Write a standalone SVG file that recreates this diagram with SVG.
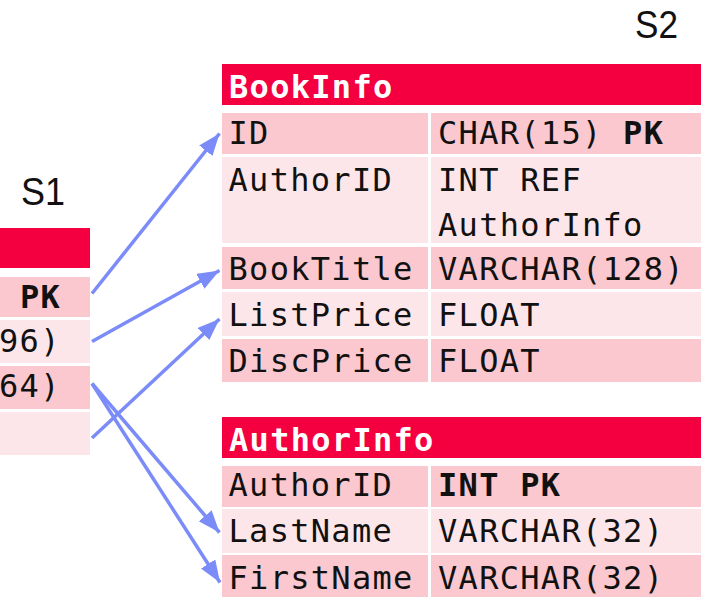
<svg xmlns="http://www.w3.org/2000/svg" width="701" height="597" viewBox="0 0 701 597">
<defs>
<style>
.hd{fill:#F40040}
.dk{fill:#FAC8CE}
.lt{fill:#FDE6E9}
.t{font-family:"DejaVu Sans Mono","Liberation Mono",monospace;font-size:32px;letter-spacing:1.3px;fill:#111}
.th{font-family:"DejaVu Sans Mono","Liberation Mono",monospace;font-size:32px;letter-spacing:1.3px;fill:#fff;font-weight:bold}
.b{font-weight:bold}
.lbl{font-family:"Liberation Sans",Arial,sans-serif;font-size:38px;fill:#111}
.c{stroke:#7B8CF8;stroke-width:3.5;fill:none;marker-end:url(#ah)}
</style>
<marker id="ah" markerUnits="userSpaceOnUse" markerWidth="24" markerHeight="18" refX="22" refY="8.5" orient="auto">
<path d="M0,0 L22,8.5 L0,17 z" fill="#7B8CF8"/>
</marker>
</defs>
<rect width="701" height="597" fill="#fff"/>

<g id="label-s1"><text class="lbl" x="21" y="205" textLength="44" lengthAdjust="spacingAndGlyphs">S1</text></g>
<g id="label-s2"><text class="lbl" x="635" y="38" textLength="43" lengthAdjust="spacingAndGlyphs">S2</text></g>

<g id="table-s1">
<rect class="hd" x="0" y="228" width="90" height="40"/>
<rect class="dk" x="0" y="277" width="90" height="40"/>
<rect class="lt" x="0" y="320" width="90" height="43"/>
<rect class="dk" x="0" y="366" width="90" height="43"/>
<rect class="lt" x="0" y="412" width="90" height="43"/>
<text class="t b" x="20" y="307.5">PK</text>
<text class="t" x="-1" y="351.5">96)</text>
<text class="t" x="-1" y="397">64)</text>
</g>

<g id="table-bookinfo">
<rect class="hd" x="222" y="64" width="479" height="41"/>
<rect class="dk" x="222" y="113" width="206" height="41"/>
<rect class="dk" x="431" y="113" width="270" height="41"/>
<rect class="lt" x="222" y="157" width="206" height="86"/>
<rect class="lt" x="431" y="157" width="270" height="86"/>
<rect class="dk" x="222" y="247" width="206" height="42"/>
<rect class="dk" x="431" y="247" width="270" height="42"/>
<rect class="lt" x="222" y="292" width="206" height="44"/>
<rect class="lt" x="431" y="292" width="270" height="44"/>
<rect class="dk" x="222" y="339" width="206" height="43"/>
<rect class="dk" x="431" y="339" width="270" height="43"/>
<text class="th" x="229" y="98">BookInfo</text>
<text class="t" x="228.5" y="144">ID</text>
<text class="t" x="438" y="144">CHAR(15) <tspan class="b">PK</tspan></text>
<text class="t" x="228.5" y="191">AuthorID</text>
<text class="t" x="438" y="191">INT REF</text>
<text class="t" x="438" y="235.5">AuthorInfo</text>
<text class="t" x="228.5" y="280">BookTitle</text>
<text class="t" x="438" y="280">VARCHAR(128)</text>
<text class="t" x="228.5" y="326">ListPrice</text>
<text class="t" x="438" y="326">FLOAT</text>
<text class="t" x="228.5" y="371.5">DiscPrice</text>
<text class="t" x="438" y="371.5">FLOAT</text>
</g>

<g id="table-authorinfo">
<rect class="hd" x="222" y="417" width="479" height="41"/>
<rect class="dk" x="222" y="466" width="206" height="41"/>
<rect class="dk" x="431" y="466" width="270" height="41"/>
<rect class="lt" x="222" y="509" width="206" height="44"/>
<rect class="lt" x="431" y="509" width="270" height="44"/>
<rect class="dk" x="222" y="555" width="206" height="42"/>
<rect class="dk" x="431" y="555" width="270" height="42"/>
<text class="th" x="229" y="450.5">AuthorInfo</text>
<text class="t" x="228.5" y="496">AuthorID</text>
<text class="t b" x="438" y="496">INT PK</text>
<text class="t" x="228.5" y="541.5">LastName</text>
<text class="t" x="438" y="541.5">VARCHAR(32)</text>
<text class="t" x="228.5" y="589">FirstName</text>
<text class="t" x="438" y="589">VARCHAR(32)</text>
</g>

<g id="connectors">
<line class="c" x1="92" y1="293.5" x2="219.5" y2="133.5"/>
<line class="c" x1="92" y1="341.5" x2="219.5" y2="270.5"/>
<line class="c" x1="92" y1="438" x2="219.5" y2="319"/>
<line class="c" x1="92" y1="383.5" x2="219.5" y2="532.5"/>
<line class="c" x1="92" y1="383.5" x2="220" y2="582.5"/>
</g>
</svg>
